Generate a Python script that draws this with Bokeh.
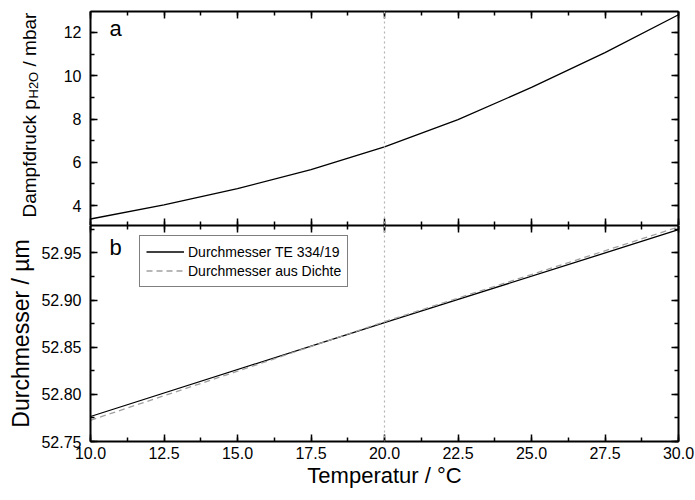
import math
from bokeh.plotting import figure
from bokeh.models import (Range1d, LinearAxis, SingleIntervalTicker, NumeralTickFormatter,
                          CustomJSTickFormatter, Span, Label, Legend, LegendItem)
from bokeh.layouts import column, row
from bokeh.embed import file_html
from bokeh.resources import INLINE

# ---------------- data ----------------
temp_p = [10.0, 12.5, 15.0, 17.5, 20.0, 22.5, 25.0, 27.5, 30.0]
p_h2o = [3.38, 4.03, 4.78, 5.66, 6.71, 7.97, 9.46, 11.07, 12.82]

temp_te = [10.0, 20.0, 30.0]
d_te = [52.7765, 52.8760, 52.9745]

temp_rho = [10.0, 15.0, 20.0, 25.0, 30.0]
d_rho = [52.7725, 52.8245, 52.8770, 52.9270, 52.9775]

ref_temp = 20.0
x_lim = (10.0, 30.0)
y1_lim = (3.08, 12.97)
y2_lim = (52.75, 52.979)

legend_labels = ["Durchmesser TE 334/19", "Durchmesser aus Dichte"]
x_title = "Temperatur / °C"
y2_title = "Durchmesser / µm"
y1_title_parts = ("Dampfdruck p", "H2O", "/ mbar")

FONT = "Liberation Sans"
STRIP_W = 40
H1 = 225


def style_axis(ax, ticker, fmt=None, show_labels=True, standoff=9):
    ax.ticker = ticker
    ax.axis_line_width = 2
    ax.axis_line_color = "black"
    ax.major_tick_in = 7
    ax.major_tick_out = 0
    ax.minor_tick_in = 4
    ax.minor_tick_out = 0
    ax.major_tick_line_width = 1.5
    ax.minor_tick_line_width = 1.5
    ax.major_tick_line_color = "black"
    ax.minor_tick_line_color = "black"
    if show_labels:
        ax.formatter = fmt
        ax.major_label_text_font = FONT
        ax.major_label_text_font_size = "16px"
        ax.major_label_text_color = "black"
        ax.major_label_standoff = standoff
    else:
        ax.formatter = CustomJSTickFormatter(code="return ''")
        ax.major_label_text_font_size = "0px"
        ax.major_label_standoff = 0


def make_fig(ylim, frame_h, top, bottom, left):
    p = figure(frame_width=588, frame_height=frame_h,
               x_range=Range1d(*x_lim), y_range=Range1d(*ylim),
               output_backend="svg", toolbar_location=None,
               x_axis_location=None, y_axis_location=None,
               min_border_left=left, min_border_right=17,
               min_border_top=top, min_border_bottom=bottom)
    p.outline_line_color = None
    p.background_fill_color = "white"
    p.border_fill_color = "white"
    p.grid.grid_line_color = None
    return p


# ---------------- top panel ----------------
p1 = make_fig(y1_lim, 214, 11, 0, 90 - STRIP_W)
xt1 = SingleIntervalTicker(interval=2.5, num_minor_ticks=2)
yt1 = SingleIntervalTicker(interval=2, num_minor_ticks=2)

ax = LinearAxis(); style_axis(ax, yt1, NumeralTickFormatter(format="0")); p1.add_layout(ax, "left")
ax = LinearAxis(); style_axis(ax, yt1, show_labels=False); p1.add_layout(ax, "right")
ax = LinearAxis(); style_axis(ax, xt1, show_labels=False); p1.add_layout(ax, "above")
ax = LinearAxis(); style_axis(ax, xt1, show_labels=False); p1.add_layout(ax, "below")

p1.add_layout(Span(location=ref_temp, dimension="height", line_color="#b4b4b4",
                   line_dash="2 3", line_width=1.2))
p1.line(temp_p, p_h2o, line_color="black", line_width=1.3)

p1.add_layout(Label(x=x_lim[0], y=y1_lim[1], x_offset=19, y_offset=-17, text="a",
                    text_font=FONT, text_font_size="22px", text_color="black",
                    text_baseline="alphabetic", text_align="left"))

# strip with the rotated top y title (with subscript); anchored at the strip bottom,
# all positions along the text given as pixel offsets
s1 = figure(title=None, width=STRIP_W, height=H1,
            x_range=Range1d(0, STRIP_W), y_range=Range1d(0, H1),
            output_backend="svg", toolbar_location=None,
            x_axis_location=None, y_axis_location=None,
            min_border_left=0, min_border_right=0, min_border_top=0, min_border_bottom=0)
s1.outline_line_color = None
s1.background_fill_color = "white"
s1.border_fill_color = "white"
s1.grid.grid_line_color = None

main_fs, sub_fs = 19, 13
w_main1 = 6.224 * main_fs
w_sub = 2.056 * sub_fs
w_space = 0.278 * main_fs
base_x = 29
start = 8
common = dict(x=base_x, y=0, angle=math.pi / 2, text_font=FONT, text_color="black",
              text_align="left", text_baseline="alphabetic")
s1.add_layout(Label(text=y1_title_parts[0], text_font_size=f"{main_fs}px",
                    y_offset=start, **common))
s1.add_layout(Label(text=y1_title_parts[1], text_font_size=f"{sub_fs}px",
                    x_offset=4, y_offset=round(start + w_main1 + 1), **common))
s1.add_layout(Label(text=y1_title_parts[2], text_font_size=f"{main_fs}px",
                    y_offset=round(start + w_main1 + w_sub + w_space + 1), **common))

# ---------------- bottom panel ----------------
p2 = make_fig(y2_lim, 216, 0, 0, 90)
xt2 = SingleIntervalTicker(interval=2.5, num_minor_ticks=2)
yt2 = SingleIntervalTicker(interval=0.05, num_minor_ticks=2)

ax = LinearAxis(); style_axis(ax, yt2, NumeralTickFormatter(format="0.00"))
ax.axis_label = y2_title
ax.axis_label_text_font = FONT
ax.axis_label_text_font_size = "23px"
ax.axis_label_text_font_style = "normal"
ax.axis_label_text_color = "black"
ax.axis_label_standoff = 4
p2.add_layout(ax, "left")
ax = LinearAxis(); style_axis(ax, yt2, show_labels=False); p2.add_layout(ax, "right")
ax = LinearAxis(); style_axis(ax, xt2, show_labels=False); p2.add_layout(ax, "above")
ax = LinearAxis(); style_axis(ax, xt2, NumeralTickFormatter(format="0.0"), standoff=5)
ax.axis_label = x_title
ax.axis_label_text_font = FONT
ax.axis_label_text_font_size = "22px"
ax.axis_label_text_font_style = "normal"
ax.axis_label_text_color = "black"
ax.axis_label_standoff = 1
p2.add_layout(ax, "below")

p2.add_layout(Span(location=ref_temp, dimension="height", line_color="#b4b4b4",
                   line_dash="2 3", line_width=1.2))
r_te = p2.line(temp_te, d_te, line_color="black", line_width=1.3)
r_rho = p2.line(temp_rho, d_rho, line_color="#a0a0a0", line_width=1.3, line_dash="6 4")

p2.add_layout(Label(x=x_lim[0], y=y2_lim[1], x_offset=19, y_offset=-22, text="b",
                    text_font=FONT, text_font_size="22px", text_color="black",
                    text_baseline="alphabetic", text_align="left"))

legend = Legend(items=[LegendItem(label=legend_labels[0], renderers=[r_te]),
                       LegendItem(label=legend_labels[1], renderers=[r_rho])],
                location=(49, 154))
legend.label_text_font = FONT
legend.label_text_font_size = "14px"
legend.label_text_color = "black"
legend.border_line_color = "black"
legend.border_line_width = 1
legend.background_fill_color = "white"
legend.background_fill_alpha = 1
legend.padding = 6
legend.spacing = 0
legend.margin = 0
legend.glyph_width = 38
legend.glyph_height = 19
legend.label_height = 19
legend.label_standoff = 4
p2.add_layout(legend)

layout = column(row(s1, p1, spacing=0), p2, spacing=0)
open("out.html", "w").write(file_html(layout, INLINE))
